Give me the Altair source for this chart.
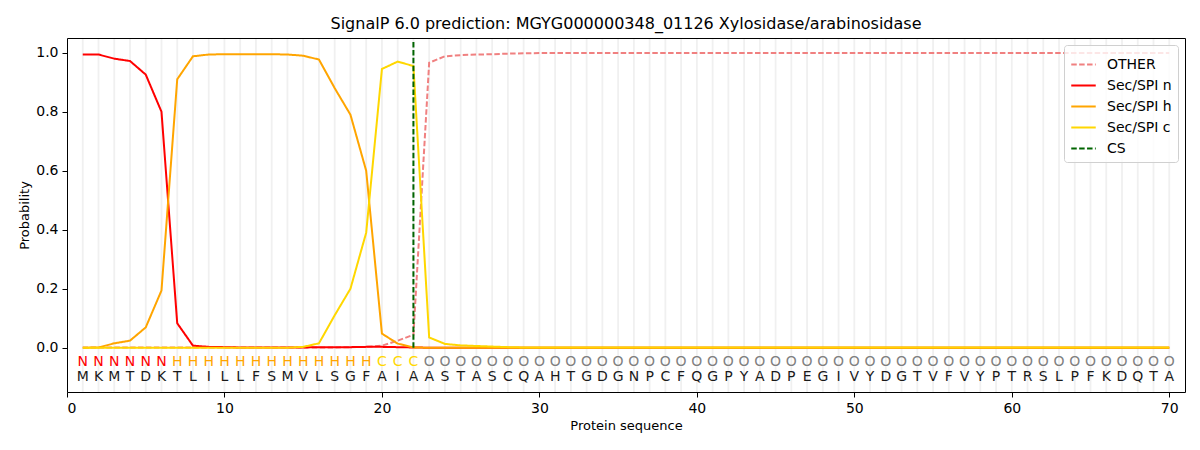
import altair as alt
import pandas as pd

sequence = list("MKMTDKTLILLFSMVLSGFAIAASTASCQAHTGDGNPCFQGPYADPEGIVYDGTVFVYPTRSLPFKDQTA")
labels = list("NNNNNN" + "HHHHHHHHHHHHH" + "CCC" + "O" * 48)
positions = list(range(1, 71))

other = [0.001, 0.001, 0.001, 0.001, 0.001, 0.001, 0.001, 0.001, 0.001, 0.001,
         0.001, 0.001, 0.001, 0.001, 0.001, 0.001, 0.001, 0.002, 0.003, 0.007,
         0.024, 0.044, 0.966, 0.988, 0.992, 0.994, 0.995, 0.997, 0.998, 0.999,
         0.999, 0.999, 0.999, 0.999, 0.999, 0.999, 0.999, 0.999, 0.999, 0.999,
         0.999, 0.999, 0.999, 0.999, 0.999, 0.999, 0.999, 0.999, 0.999, 0.999,
         0.999, 0.999, 0.999, 0.999, 0.999, 0.999, 0.999, 0.999, 0.999, 0.999,
         0.999, 0.999, 0.999, 0.999, 0.999, 0.999, 0.999, 0.999, 0.999, 0.999]
sec_n = [0.994, 0.994, 0.980, 0.972, 0.926, 0.800, 0.083, 0.007, 0.003, 0.002,
         0.001, 0.001, 0.001, 0.001, 0.001, 0.002, 0.002, 0.002, 0.003, 0.003,
         0.002, 0.001, 0.000, 0.000, 0.000, 0.000, 0.000, 0.000, 0.000, 0.000,
         0.000, 0.000, 0.000, 0.000, 0.000, 0.000, 0.000, 0.000, 0.000, 0.000,
         0.000, 0.000, 0.000, 0.000, 0.000, 0.000, 0.000, 0.000, 0.000, 0.000,
         0.000, 0.000, 0.000, 0.000, 0.000, 0.000, 0.000, 0.000, 0.000, 0.000,
         0.000, 0.000, 0.000, 0.000, 0.000, 0.000, 0.000, 0.000, 0.000, 0.000]
sec_h = [0.000, 0.001, 0.015, 0.024, 0.069, 0.194, 0.910, 0.988, 0.994, 0.995,
         0.995, 0.995, 0.995, 0.994, 0.990, 0.977, 0.880, 0.790, 0.600, 0.048,
         0.014, 0.001, 0.000, 0.000, 0.000, 0.000, 0.000, 0.000, 0.000, 0.000,
         0.000, 0.000, 0.000, 0.000, 0.000, 0.000, 0.000, 0.000, 0.000, 0.000,
         0.000, 0.000, 0.000, 0.000, 0.000, 0.000, 0.000, 0.000, 0.000, 0.000,
         0.000, 0.000, 0.000, 0.000, 0.000, 0.000, 0.000, 0.000, 0.000, 0.000,
         0.000, 0.000, 0.000, 0.000, 0.000, 0.000, 0.000, 0.000, 0.000, 0.000]
sec_c = [0.000, 0.000, 0.000, 0.000, 0.000, 0.000, 0.000, 0.000, 0.000, 0.000,
         0.000, 0.000, 0.000, 0.000, 0.003, 0.015, 0.110, 0.200, 0.390, 0.945,
         0.970, 0.955, 0.035, 0.013, 0.008, 0.006, 0.004, 0.002, 0.001, 0.001,
         0.001, 0.001, 0.001, 0.001, 0.001, 0.001, 0.001, 0.001, 0.001, 0.001,
         0.001, 0.001, 0.001, 0.001, 0.001, 0.001, 0.001, 0.001, 0.001, 0.001,
         0.001, 0.001, 0.001, 0.001, 0.001, 0.001, 0.001, 0.001, 0.001, 0.001,
         0.001, 0.001, 0.001, 0.001, 0.001, 0.001, 0.001, 0.001, 0.001, 0.001]
cs_position = 22

series_names = ["OTHER", "Sec/SPI n", "Sec/SPI h", "Sec/SPI c", "CS"]
series_colors = ["#F08080", "#FF0000", "#FFA500", "#FFD700", "#006400"]
series_dash = [[5.5, 2.4], [1, 0], [1, 0], [1, 0], [5.5, 2.4]]
label_colors = {"N": "#FF0000", "H": "#FFA500", "C": "#FFD700", "O": "#808080"}

rows = []
for name, vals in zip(series_names[:4], [other, sec_n, sec_h, sec_c]):
    for p, v in zip(positions, vals):
        rows.append({"pos": p, "prob": v, "series": name})
lines_df = pd.DataFrame(rows)

letters_df = pd.DataFrame({
    "pos": positions,
    "aa": sequence,
    "lab": labels,
    "labcolor": [label_colors[l] for l in labels],
    "y_lab": [-0.048] * 70,
    "y_aa": [-0.10] * 70,
})
grid_df = pd.DataFrame({"pos": positions, "y0": [-0.15] * 70, "y1": [1.05] * 70})
cs_df = pd.DataFrame({"pos": [cs_position], "y0": [0.0], "y1": [1.04], "series": ["CS"]})

x_scale = alt.Scale(domain=[0, 71], nice=False, zero=False)
y_scale = alt.Scale(domain=[-0.15, 1.05], nice=False, zero=False)
X = lambda f: alt.X(f, scale=x_scale, axis=None)
Y = lambda f: alt.Y(f, scale=y_scale, axis=None)

color_scale = alt.Scale(domain=series_names, range=series_colors)
dash_scale = alt.Scale(domain=series_names, range=series_dash)
legend = alt.Legend(title=None, orient="top-right", offset=7, symbolType="stroke",
                    symbolSize=600, symbolStrokeWidth=2, labelFontSize=14,
                    labelFont="DejaVu Sans", labelColor="#000000",
                    strokeColor="#d0d0d0", fillColor="rgba(255,255,255,0.8)",
                    padding=6, cornerRadius=3, rowPadding=-3, labelOffset=10)

grid = alt.Chart(grid_df).mark_rule(color="#f0f0f0", strokeWidth=1.8).encode(
    x=alt.X("pos:Q", scale=x_scale,
            axis=alt.Axis(values=[0, 10, 20, 30, 40, 50, 60, 70], title="Protein sequence",
                          grid=False, format="d", zindex=1)),
    y=alt.Y("y0:Q", scale=y_scale,
            axis=alt.Axis(values=[0.0, 0.2, 0.4, 0.6, 0.8, 1.0], title="Probability",
                          grid=False, format=".1f", zindex=1)),
    y2="y1:Q",
)

# invisible layer that only contributes the top and right frame lines
frame = alt.Chart(grid_df.head(1)).mark_rule(opacity=0).encode(
    x=alt.X("pos:Q", scale=x_scale,
            axis=alt.Axis(orient="top", labels=False, ticks=False, title=None,
                          grid=False, zindex=1)),
    y=alt.Y("y0:Q", scale=y_scale,
            axis=alt.Axis(orient="right", labels=False, ticks=False, title=None,
                          grid=False, zindex=1)),
    y2="y1:Q",
)

lines = alt.Chart(lines_df).mark_line(strokeWidth=2).encode(
    x=X("pos:Q"),
    y=Y("prob:Q"),
    color=alt.Color("series:N", scale=color_scale, legend=legend),
    strokeDash=alt.StrokeDash("series:N", scale=dash_scale, legend=legend),
    detail="series:N",
)
line_layers = [lines.transform_filter(alt.datum.series == s) for s in series_names[:4]]

cs_rule = alt.Chart(cs_df).mark_rule(strokeWidth=2).encode(
    x=X("pos:Q"),
    y=Y("y0:Q"),
    y2="y1:Q",
    color=alt.Color("series:N", scale=color_scale, legend=legend),
    strokeDash=alt.StrokeDash("series:N", scale=dash_scale, legend=legend),
)

lab_text = alt.Chart(letters_df).mark_text(fontSize=14, font="DejaVu Sans").encode(
    x=X("pos:Q"),
    y=Y("y_lab:Q"),
    text="lab:N",
    color=alt.Color("labcolor:N", scale=None),
)
aa_text = alt.Chart(letters_df).mark_text(fontSize=14, font="DejaVu Sans", color="#1a1a1a").encode(
    x=X("pos:Q"),
    y=Y("y_aa:Q"),
    text="aa:N",
)

chart = alt.layer(grid, frame, *line_layers, cs_rule, lab_text, aa_text).properties(
    width=1118, height=354,
    title=alt.Title("SignalP 6.0 prediction: MGYG000000348_01126 Xylosidase/arabinosidase",
                    fontSize=16, font="DejaVu Sans", fontWeight="normal", offset=5),
    autosize=alt.AutoSizeParams(type="none"),
    padding={"left": 59, "top": 30, "right": 6, "bottom": 48},
).resolve_axis(
    x="independent", y="independent"
).configure_view(
    stroke=None
).configure_axis(
    labelFont="DejaVu Sans", titleFont="DejaVu Sans", labelFontSize=14, titleFontSize=13,
    titleFontWeight="normal", labelColor="#000000", titleColor="#000000",
    domainColor="#000000", tickColor="#000000", tickSize=5, labelPadding=4,
)

chart.save("out.html", embed_options={"renderer": "svg", "actions": False})
